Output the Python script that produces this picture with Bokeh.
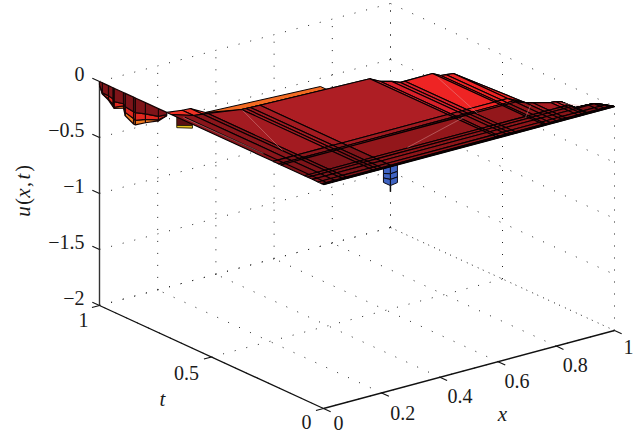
from math import pi
from bokeh.plotting import figure
from bokeh.models import Range1d
from bokeh.core.properties import value
from bokeh.embed import file_html
from bokeh.resources import INLINE

# ---------- data ----------
x_ticks = [0, 0.2, 0.4, 0.6, 0.8, 1]
x_tick_labels = ["0", "0.2", "0.4", "0.6", "0.8", "1"]
t_ticks = [0, 0.5, 1]
t_tick_labels = ["0", "0.5", "1"]
z_ticks = [0, -0.5, -1, -1.5, -2]
z_tick_labels = ["0", "\u22120.5", "\u22121", "\u22121.5", "\u22122"]

# main sheet: column positions, fixed row positions, and the per-column rear rows
x_cols = [0, 0.044, 0.07, 0.084, 0.176, 0.19, 0.205, 0.236, 0.60, 0.61,
          0.635, 0.649, 0.665, 0.761, 0.769, 0.785, 0.806, 0.825, 0.84, 0.88, 0.895, 0.906, 0.911,
          0.95, 0.969, 0.985, 1]
t_rows = [0, 0.008, 0.025, 0.05, 0.07, 0.085, 0.19, 0.2, 0.225]
t_panel = [0.68, 0.637, 0.63, 0.625, 0.595, 0.594, 0.593, 0.59, 0.573, 0.54,
           0.52, 0.50, 0.50, 0.502, 0.476, 0.472, 0.467, 0.17, 0.155, 0.13, 0.125, 0.119, 0.058,
           0.055, 0.053, 0.03, 0]
t_back = [0.70, 0.688, 0.685, 0.636, 0.595, 0.594, 0.593, 0.59, 0.573, 0.54,
          0.52, 0.50, 0.50, 0.502, 0.476, 0.472, 0.467, 0.17, 0.155, 0.13, 0.125, 0.119, 0.058,
          0.055, 0.053, 0.03, 0]
# colour of sheet regions: rows front -> back, columns left -> right
col_limits = [0.084, 0.24, 0.60, 0.665, 0.825, 0.88, 0.911, 1.0]
row_limits = [0.085, 0.19, 0.225, 0.60, 1.0]
region_colors = [
    ["#7E1419", "#7E1419", "#8F1519", "#8F1519", "#8F1519", "#8A1519", "#8A1519", "#7E1419"],
    ["#7E1419", "#7E1419", "#93171B", "#93171B", "#93171B", "#A81C22", "#C82028", "#8A1519"],
    ["#7E1419", "#8C161B", "#A01A20", "#A01A20", "#EE2424", "#A81C22", "#C82028", "#8A1519"],
    ["#8A161B", "#A31B21", "#AE1E24", "#D8202A", "#EE2424", "#A81C22", "#C82028", "#8A1519"],
    ["#EE3124", "#F26A22", "#F26A22", "#EE2424", "#EE2424", "#A81C22", "#C82028", "#8A1519"],
]
# extra thin mesh line close to the x=0 edge: (x, t0, t1)
inner_lines = [(0.016, 0.0, 0.64)]

# orange strip along the rear of the big panel
rear_x = [0.084, 0.456]
rear_t_back = [0.636, 0.606]
rear_t_front = [0.60, 0.578]
rear_color = "#F26A22"

# flap hanging behind the x=0 edge, t from 1 to 0.7: depth of its bands below the edge
flap_t = [1.0, 0.987, 0.96, 0.94, 0.935, 0.893, 0.885, 0.848, 0.84, 0.795, 0.737, 0.70]
flap_z = [
    [0.0] * 12,
    [-0.03, -0.09, -0.09, -0.10, -0.12, -0.10, -0.12, -0.13, -0.13, -0.10, -0.07, -0.02],
    [-0.03, -0.10, -0.12, -0.15, -0.17, -0.12, -0.17, -0.19, -0.20, -0.15, -0.10, -0.03],
    [-0.03, -0.10, -0.13, -0.17, -0.18, -0.14, -0.20, -0.24, -0.24, -0.18, -0.11, -0.03],
]
flap_colors = ["#7E1419", "#E0281F", "#F07A20"]

# small yellow strip below the left edge, with the dark band above it
strip_t = [0.655, 0.585]
strip_top_z = [-0.075, -0.012]
strip_low_z = [-0.095, -0.035]

# blue spike below the front edge
spike_x = [0.206, 0.23, 0.254]
spike_z = [
    [0.0, 0.0, 0.0],
    [-0.045, -0.065, -0.06],
    [-0.085, -0.115, -0.11],
    [-0.125, -0.17, -0.16],
]
spike_tail_z = [-0.17, -0.225]

# pale triangulation seams: (x0, t0, x1, t1)
seams = [(0.174, 0.587, 0.0715, 0.276), (0.357, 0.089, 0.62, 0.181), (0.753, 0.469, 0.67, 0.182),
         (0.755, 0.079, 0.822, 0.144), (0.012, 0.641, 0.016, 0.289), (0.9, 0.11, 0.93, 0.06)]


# ---------- projection of the 3D view ----------
def sx(x, t, z=0.0):
    return 323 + 291 * x - 224 * t


def sy(x, t, z=0.0):
    return 184 - 78 * x - 103 * t - 112 * z


W, H = 638, 433
p = figure(width=W, height=H, output_backend="svg", toolbar_location=None,
           x_range=Range1d(0, W), y_range=Range1d(H, 0), min_border=0,
           outline_line_color=None)
p.xaxis.visible = False
p.yaxis.visible = False
p.grid.visible = False

# ---------- dotted box grid ----------
DOT = dict(line_color="#222222", line_width=1, line_dash="1 11")
Z0, Z1 = -2, 0
segs = []
for x in x_ticks:
    segs.append(((x, 0, Z0), (x, 1, Z0)))
    segs.append(((x, 1, Z0), (x, 1, Z1)))
for t in t_ticks:
    segs.append(((0, t, Z0), (1, t, Z0)))
    segs.append(((1, t, Z0), (1, t, Z1)))
for z in z_ticks:
    segs.append(((0, 1, z), (1, 1, z)))
    segs.append(((1, 1, z), (1, 0, z)))
p.multi_line([[sx(*a), sx(*b)] for a, b in segs], [[sy(*a), sy(*b)] for a, b in segs], **DOT)

# ---------- axes ----------
AX = dict(line_color="#111111", line_width=1.3)
p.line([sx(0, 1, z) for z in (-2, 0)], [sy(0, 1, z) for z in (-2, 0)], line_color="#333333", line_width=1.4)
p.line([sx(0, t, -2) for t in (1, 0)], [sy(0, t, -2) for t in (1, 0)], **AX)
p.line([sx(x, 0, -2) for x in (0, 1)], [sy(x, 0, -2) for x in (0, 1)], **AX)
ticks = []
for x in x_ticks:
    ticks.append(((x, 0, -2), (x, -0.032, -2)))
for t in t_ticks:
    ticks.append(((0, t, -2), (-0.026, t, -2)))
for z in z_ticks:
    ticks.append(((0, 1, z), (0, 1.032, z)))
p.multi_line([[sx(*a), sx(*b)] for a, b in ticks], [[sy(*a), sy(*b)] for a, b in ticks],
             line_color="#111111", line_width=1.1)

# ---------- surface ----------
def polys(cells):
    xs, ys, cs = [], [], []
    for pts, c in cells:
        xs.append([sx(*q) for q in pts])
        ys.append([sy(*q) for q in pts])
        cs.append(c)
    return dict(xs=xs, ys=ys, color=cs)


def group(v, limits):
    for i, lim in enumerate(limits):
        if v <= lim + 1e-9:
            return i
    return len(limits) - 1


# spike
cells = []
for r in range(len(spike_z) - 1):
    for c in range(len(spike_x) - 1):
        cells.append(([(spike_x[c], 0, spike_z[r][c]), (spike_x[c + 1], 0, spike_z[r][c + 1]),
                       (spike_x[c + 1], 0, spike_z[r + 1][c + 1]), (spike_x[c], 0, spike_z[r + 1][c])],
                      "#3F63C2"))
d = polys(cells)
p.patches(d["xs"], d["ys"], fill_color=d["color"], line_color="#0A0A14", line_width=1)
p.line([sx(spike_x[1], 0, z) for z in spike_tail_z], [sy(spike_x[1], 0, z) for z in spike_tail_z],
       line_color="#111111", line_width=1.5)

# flap
cells = []
for r in range(len(flap_z) - 1):
    for c in range(len(flap_t) - 1):
        cells.append(([(0, flap_t[c], flap_z[r][c]), (0, flap_t[c + 1], flap_z[r][c + 1]),
                       (0, flap_t[c + 1], flap_z[r + 1][c + 1]), (0, flap_t[c], flap_z[r + 1][c])],
                      flap_colors[r]))
cells = cells[::-1]
d = polys(cells)
p.patches(d["xs"], d["ys"], fill_color=d["color"], line_color="#160506", line_width=1.2)

# yellow strip and dark band
q_dark = [(0, strip_t[0], strip_top_z[0]), (0, strip_t[1], strip_top_z[1]),
          (0, strip_t[1], 0), (0, strip_t[0], 0)]
q_yel = [(0, strip_t[0], strip_low_z[0]), (0, strip_t[1], strip_low_z[1]),
         (0, strip_t[1], strip_top_z[1]), (0, strip_t[0], strip_top_z[0])]
d = polys([(q_dark, "#5A0F12"), (q_yel, "#E8C21E")])
p.patches(d["xs"], d["ys"], fill_color=d["color"], line_color="#201A05", line_width=0.9)

# orange rear strip
d = polys([([(rear_x[0], rear_t_back[0]), (rear_x[1], rear_t_back[1]),
             (rear_x[1], rear_t_front[1]), (rear_x[0], rear_t_front[0])], rear_color)])
p.patches(d["xs"], d["ys"], fill_color=d["color"], line_color="#060102", line_width=1.0)

# main sheet, back to front
cells = []
row_mid = [*t_rows, 0.59, 0.62]
for c in range(len(x_cols) - 1):
    rows_a = [min(v, t_back[c]) for v in t_rows] + [t_panel[c], t_back[c]]
    rows_b = [min(v, t_back[c + 1]) for v in t_rows] + [t_panel[c + 1], t_back[c + 1]]
    xm = (x_cols[c] + x_cols[c + 1]) / 2
    cg = group(xm, col_limits)
    for r in range(len(rows_a) - 1):
        rg = group((row_mid[r] + row_mid[r + 1]) / 2, row_limits)
        cells.append(([(x_cols[c], rows_a[r]), (x_cols[c + 1], rows_b[r]),
                       (x_cols[c + 1], rows_b[r + 1]), (x_cols[c], rows_a[r + 1])],
                      region_colors[rg][cg]))
cells = cells[::-1]
d = polys(cells)
p.patches(d["xs"], d["ys"], fill_color=d["color"], line_color="#060102", line_width=1.1)
p.multi_line([[sx(a, b), sx(a, e)] for a, b, e in inner_lines], [[sy(a, b), sy(a, e)] for a, b, e in inner_lines],
             line_color="#060102", line_width=1.1)
p.line([sx(x, 0) for x in (0, 1)], [sy(x, 0) for x in (0, 1)], line_color="#060102", line_width=1.8)

# seams
p.multi_line([[sx(a, b), sx(e, f)] for a, b, e, f in seams], [[sy(a, b), sy(e, f)] for a, b, e, f in seams],
             line_color="#E0A0A0", line_width=0.7, line_alpha=0.65)

# ---------- texts ----------
FONT = value("Liberation Serif")
TXT = dict(text_font=FONT, text_font_size="20px", text_color="#1A1A1A", text_baseline="middle")
p.text([sx(x, 0, -2) + o for x, o in zip(x_ticks, [15, 21, 20, 19, 19, 14])],
       [sy(x, 0, -2) + o for x, o in zip(x_ticks, [14, 20, 19, 19, 19, 16])],
       text=x_tick_labels, text_align="center", **TXT)
p.text([sx(0, t, -2) + o for t, o in zip(t_ticks, [-17, -25, -16])],
       [sy(0, t, -2) + o for t, o in zip(t_ticks, [13, 16, 14])],
       text=t_tick_labels, text_align="center", **TXT)
p.text([84] * len(z_ticks), [sy(0, 1, z) - 8 for z in z_ticks], text=z_tick_labels, text_align="right", **TXT)

ITAL = dict(TXT, text_font_style="italic", text_font_size="21px")
p.text([502], [413], text=["x"], text_align="center", **ITAL)
p.text([162], [398], text=["t"], text_align="center", **ITAL)
p.text([22], [211], text=["u"], angle=pi / 2, text_align="center", **ITAL)
p.text([22], [201], text=["("], angle=pi / 2, text_align="center", **TXT)
p.text([22], [192.5], text=["x"], angle=pi / 2, text_align="center", **ITAL)
p.text([22], [184], text=[","], angle=pi / 2, text_align="center", **TXT)
p.text([22], [176], text=["t"], angle=pi / 2, text_align="center", **ITAL)
p.text([22], [168], text=[")"], angle=pi / 2, text_align="center", **TXT)

open("out.html", "w").write(file_html(p, INLINE))
